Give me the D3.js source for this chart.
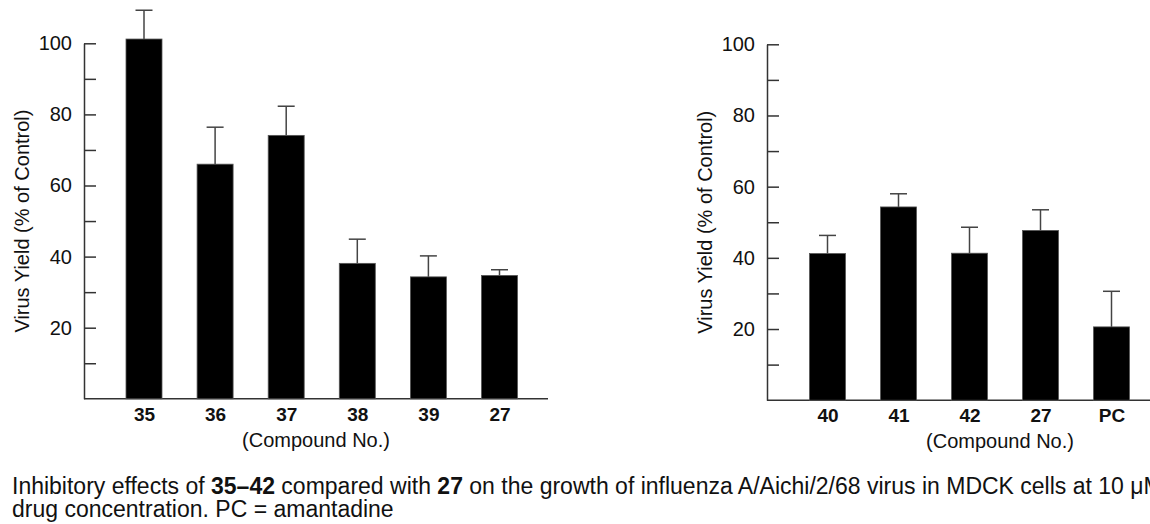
<!DOCTYPE html>
<html>
<head>
<meta charset="utf-8">
<script src="https://cdn.jsdelivr.net/npm/d3@7"></script>
<style>
  body { margin: 0; background: #fff; }
  text { font-family: "Liberation Sans", Arial, Helvetica, sans-serif; fill: #111; }
</style>
</head>
<body>
<script>
// left panel: compounds 35-39 and 27
var leftCompounds = ["35", "36", "37", "38", "39", "27"];
var leftYield = [101.2, 66.0, 74.1, 38.1, 34.3, 34.7];
var leftError = [8.1, 10.4, 8.2, 6.8, 5.9, 1.6];

// right panel: 40-42, 27 and amantadine (PC)
var rightCompounds = ["40", "41", "42", "27", "PC"];
var rightYield = [41.2, 54.3, 41.3, 47.7, 20.6];
var rightError = [5.1, 3.7, 7.3, 5.8, 10.0];

var yTicks = [10, 20, 30, 40, 50, 60, 70, 80, 90, 100];

var svg = d3.select("body").append("svg")
    .attr("width", 1150)
    .attr("height", 524);

function panel(cfg) {
    var y = d3.scaleLinear().domain([0, 100]).range([cfg.bottom, cfg.top]);
    var x = d3.scalePoint().domain(cfg.cats).range([cfg.firstX, cfg.lastX]);
    var barW = 36;
    var g = svg.append("g");

    // y axis, ticks pointing in towards the bars
    var yAxis = d3.axisLeft(y)
        .tickValues(yTicks)
        .tickSizeInner(-12)
        .tickSizeOuter(0)
        .tickPadding(12)
        .tickFormat(function(d) { return d % 20 === 0 ? d : ""; });
    var ya = g.append("g")
        .attr("transform", "translate(" + cfg.axisX + ",0)")
        .call(yAxis);
    ya.selectAll("path, line").attr("stroke", "#333").attr("stroke-width", 1.5);
    ya.selectAll("text").attr("font-size", 20).attr("fill", "#111")
        .style("font-family", "Liberation Sans, Arial, sans-serif");

    // baseline
    g.append("line")
        .attr("x1", cfg.axisX).attr("x2", cfg.axisEnd)
        .attr("y1", y(0)).attr("y2", y(0))
        .attr("stroke", "#333").attr("stroke-width", 1.5);

    var data = cfg.cats.map(function(c, i) {
        return { c: c, v: cfg.vals[i], e: cfg.errs[i] };
    });

    // error bars (drawn first so bars sit on the stem)
    g.selectAll(".stem").data(data).enter().append("line")
        .attr("x1", function(d) { return x(d.c); })
        .attr("x2", function(d) { return x(d.c); })
        .attr("y1", function(d) { return y(d.v); })
        .attr("y2", function(d) { return y(d.v + d.e); })
        .attr("stroke", "#444").attr("stroke-width", 1.5);
    g.selectAll(".cap").data(data).enter().append("line")
        .attr("x1", function(d) { return x(d.c) - 8.5; })
        .attr("x2", function(d) { return x(d.c) + 8.5; })
        .attr("y1", function(d) { return y(d.v + d.e); })
        .attr("y2", function(d) { return y(d.v + d.e); })
        .attr("stroke", "#444").attr("stroke-width", 1.5);

    g.selectAll(".bar").data(data).enter().append("rect")
        .attr("x", function(d) { return x(d.c) - barW / 2; })
        .attr("width", barW)
        .attr("y", function(d) { return y(d.v); })
        .attr("height", function(d) { return y(0) - y(d.v); })
        .attr("fill", "#000")
        .attr("stroke", "#555").attr("stroke-width", 0.8);

    // category labels
    var xAxis = d3.axisBottom(x).tickSize(0).tickPadding(0);
    var xa = g.append("g")
        .attr("transform", "translate(0," + (y(0) + 22) + ")")
        .call(xAxis);
    xa.select(".domain").remove();
    xa.selectAll("text")
        .attr("dy", 0)
        .attr("font-size", 19).attr("font-weight", "bold").attr("fill", "#111")
        .style("font-family", "Liberation Sans, Arial, sans-serif");

    g.append("text")
        .attr("x", cfg.titleX).attr("y", y(0) + 48)
        .attr("text-anchor", "middle")
        .attr("font-size", 20)
        .text("(Compound No.)");

    g.append("text")
        .attr("transform", "translate(" + (cfg.axisX - 55) + "," + ((cfg.top + cfg.bottom) / 2) + ") rotate(-90)")
        .attr("text-anchor", "middle")
        .attr("font-size", 20)
        .text("Virus Yield (% of Control)");
}

panel({
    cats: leftCompounds, vals: leftYield, errs: leftError,
    top: 43.3, bottom: 398.8, axisX: 84, axisEnd: 548,
    firstX: 144, lastX: 499.5, titleX: 316
});

panel({
    cats: rightCompounds, vals: rightYield, errs: rightError,
    top: 44.3, bottom: 400.2, axisX: 767, axisEnd: 1150,
    firstX: 827.5, lastX: 1111.5, titleX: 1000
});

// caption
var cap = svg.append("text").attr("x", 12).attr("y", 494).attr("font-size", 23);
cap.append("tspan").text("Inhibitory effects of ");
cap.append("tspan").attr("font-weight", "bold").text("35\u201342");
cap.append("tspan").text(" compared with ");
cap.append("tspan").attr("font-weight", "bold").text("27");
cap.append("tspan").text(" on the growth of influenza A/Aichi/2/68 virus in MDCK cells at 10 \u03bcM");

svg.append("text").attr("x", 12).attr("y", 517).attr("font-size", 23)
    .text("drug concentration. PC = amantadine");
</script>
</body>
</html>
